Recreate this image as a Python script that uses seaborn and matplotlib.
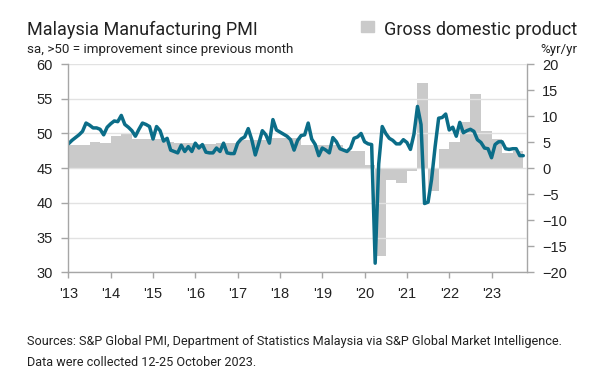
import matplotlib
matplotlib.use("Agg")
import matplotlib.pyplot as plt
import matplotlib.patches as mpatches
import seaborn as sns
import numpy as np
import pandas as pd

# Malaysia manufacturing PMI, monthly, Jan 2013 - Oct 2023
pmi_2013 = [48.5, 49.0, 49.4, 49.8, 50.3, 51.5, 51.2, 50.8, 50.8, 50.6, 49.8, 50.9]
pmi_2014 = [51.4, 51.8, 51.7, 52.6, 51.3, 50.9, 50.4, 49.6, 50.6, 51.5, 51.3, 51.0]
pmi_2015 = [49.2, 51.0, 50.4, 48.9, 49.3, 47.6, 47.4, 47.2, 48.3, 47.4, 48.1, 47.4]
pmi_2016 = [48.6, 47.9, 48.4, 47.3, 47.2, 47.2, 47.9, 47.4, 48.6, 47.2, 47.1, 47.1]
pmi_2017 = [48.6, 49.2, 49.5, 50.7, 49.1, 46.9, 48.6, 50.4, 49.8, 48.6, 52.0, 50.5]
pmi_2018 = [50.2, 49.9, 49.6, 49.1, 47.6, 49.0, 49.7, 49.8, 51.5, 49.2, 48.4, 46.8]
pmi_2019 = [47.9, 47.6, 47.2, 49.4, 48.8, 47.8, 47.6, 47.4, 47.9, 49.3, 49.5, 50.0]
pmi_2020 = [48.8, 48.5, 48.4, 31.3, 45.6, 51.0, 50.0, 49.3, 49.0, 48.5, 48.5, 49.1]
pmi_2021 = [48.7, 47.7, 49.9, 53.9, 51.3, 39.9, 40.1, 43.4, 48.1, 52.2, 52.3, 52.8]
pmi_2022 = [50.5, 50.9, 49.6, 51.6, 50.1, 50.4, 50.6, 50.3, 49.1, 48.7, 47.9, 47.8]
pmi_2023 = [46.5, 48.4, 48.8, 48.8, 47.8, 47.7, 47.8, 47.8, 46.8, 46.8]
pmi = (pmi_2013 + pmi_2014 + pmi_2015 + pmi_2016 + pmi_2017 + pmi_2018
       + pmi_2019 + pmi_2020 + pmi_2021 + pmi_2022 + pmi_2023)

# GDP, %yr/yr, quarterly, Q1 2013 - Q3 2023
gdp = [4.4, 4.5, 5.0, 4.8,
       6.2, 6.5, 5.6, 5.6,
       5.6, 5.0, 4.9, 4.9,
       4.7, 4.7, 4.8, 4.9,
       5.4, 5.4, 5.5, 5.8,
       5.8, 5.7, 4.5, 4.5,
       4.5, 4.5, 3.2, 3.2,
       0.7, -16.9, -2.2, -2.9,
       -0.5, 16.3, -4.3, 3.6,
       5.0, 8.9, 14.2, 7.1,
       5.6, 2.9, 3.3]

year_labels = ["'13", "'14", "'15", "'16", "'17", "'18", "'19", "'20", "'21", "'22", "'23"]

df_pmi = pd.DataFrame({"month": np.arange(len(pmi)), "pmi": pmi})
df_gdp = pd.DataFrame({"start": np.arange(len(gdp)) * 3, "gdp": gdp})

sns.set_style("white")
plt.rcParams["font.family"] = ["Roboto", "DejaVu Sans"]

TEAL = "#0b6d88"
GREY_BAR = "#cacaca"
SPINE = "#a6a6a6"
TXT = "#222222"

fig = plt.figure(figsize=(6, 3.77), dpi=100)
ax = fig.add_axes([0.114, 0.278, 0.764, 0.552])
ax2 = ax.twinx()

# GDP bars on the right axis, behind the PMI line
ax2.bar(df_gdp["start"], df_gdp["gdp"], width=3, align="edge",
        color=GREY_BAR, linewidth=0)
ax2.set_ylim(-20, 20)
ax2.set_yticks(range(-20, 21, 5))

ax.set_zorder(ax2.get_zorder() + 1)
ax.patch.set_visible(False)

sns.lineplot(data=df_pmi, x="month", y="pmi", ax=ax, color=TEAL,
             linewidth=2.5, solid_joinstyle="round")
ax.set_ylim(30, 60)
ax.set_yticks(range(30, 61, 5))
ax.set_xlim(0, 130)
ax.set_xticks(np.arange(len(year_labels)) * 12)
ax.set_xticklabels(year_labels)
ax.set_xlabel("")
ax.set_ylabel("")
ax.grid(axis="y", color="#e2e2e2", linewidth=1)
ax.grid(axis="x", visible=False)

for a in (ax, ax2):
    for s in a.spines.values():
        s.set_color(SPINE)
        s.set_linewidth(1)
    a.spines["top"].set_visible(False)
ax.spines["right"].set_visible(False)
ax2.spines["left"].set_visible(False)
ax2.spines["bottom"].set_visible(False)

tick_font = {"family": "Liberation Sans", "size": 10.5}
ax.tick_params(axis="y", direction="out", length=5, width=1, color=SPINE,
               pad=6, labelcolor=TXT, left=True)
ax.tick_params(axis="x", direction="out", length=4, width=1, color=SPINE,
               pad=7, labelcolor=TXT, bottom=True)
ax2.tick_params(axis="y", direction="out", length=5, width=1, color=SPINE,
                pad=6, labelcolor=TXT, right=True)
for lab in ax.get_xticklabels() + ax.get_yticklabels() + ax2.get_yticklabels():
    lab.set_fontfamily(tick_font["family"])
    lab.set_fontsize(tick_font["size"])

# titles and legend
fig.text(27 / 600, 1 - 35 / 377, "Malaysia Manufacturing PMI", fontsize=13,
         color=TXT, va="baseline", ha="left")
fig.text(27 / 600, 1 - 53 / 377, "sa, >50 = improvement since previous month",
         fontsize=9.6, color=TXT, va="baseline", ha="left")
fig.patches.append(mpatches.Rectangle((361 / 600, 1 - 32 / 377), 13 / 600, 11 / 377,
                                      transform=fig.transFigure, color=GREY_BAR,
                                      figure=fig))
fig.text(577 / 600, 1 - 35 / 377, "Gross domestic product", fontsize=13,
         color=TXT, va="baseline", ha="right")
fig.text(577 / 600, 1 - 53 / 377, "%yr/yr", fontsize=9.6, color=TXT,
         va="baseline", ha="right")

fig.text(27 / 600, 1 - 345 / 377,
         "Sources: S&P Global PMI, Department of Statistics Malaysia via S&P Global Market Intelligence.",
         fontsize=9.1, color=TXT, va="baseline", ha="left")
fig.text(27 / 600, 1 - 366 / 377, "Data were collected 12-25 October 2023.",
         fontsize=9.1, color=TXT, va="baseline", ha="left")

fig.savefig("out.png", dpi=100, facecolor="white")
